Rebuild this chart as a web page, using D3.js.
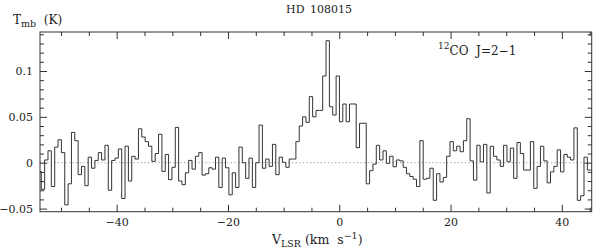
<!DOCTYPE html>
<html><head><meta charset="utf-8">
<script src="https://cdn.jsdelivr.net/npm/d3@7"></script>
<style>body{margin:0;background:#fff}svg text{font-family:"DejaVu Serif",serif;fill:#222}</style>
</head><body>
<svg id="c" width="600" height="250"></svg>
<script>
// ---- data ----
const title = "HD 108015";
const firstChannelVelocity = -54.15;   // km/s, left edge of first channel
const channelWidth = 0.602;            // km/s
const intensity = [
 -0.0095,-0.029,0.003,0.013,-0.026,0.017,0.025,0.011,-0.046,-0.023,
 0.033,0.024,-0.013,-0.004,-0.025,0.006,-0.006,0.0025,0.011,0.003,
 0.019,-0.030,0.0025,0.005,0.015,-0.039,0.018,-0.020,0.007,0.004,
 0.037,0.028,0.023,0.018,0.0015,0.010,0.031,-0.0095,0.009,-0.0185,
 -0.005,0.0385,-0.020,-0.024,-0.011,0.0025,-0.007,0.007,0.011,-0.0135,
 -0.012,-0.0055,-0.007,0.006,-0.027,0.005,-0.0055,-0.035,-0.011,-0.027,
 0.017,0,-0.017,0.005,-0.027,0,0.041,-0.006,0.004,-0.004,
 0.020,-0.013,0.006,0.0005,-0.005,0.004,0.004,0.023,0.040,0.050,
 0.044,0.072,0.050,
 0.057,0.057,0.0945,0.133,0.061,0.052,0.0945,0.0447,0.064,0.0447,
 0.064,0.064,0.0164,0.043,0.043,-0.023,-0.0087,-0.0015,0.019,0.003,
 0.013,-0.0007,0.007,-0.0044,0.003,0.002,-0.005,-0.012,-0.015,-0.018,
 -0.026,
 0.024,-0.018,-0.017,-0.006,-0.041,-0.012,-0.021,-0.016,0.007,0.023,
 0.013,0.018,0.012,0.024,0.048,0.002,-0.019,0.019,0.001,0.020,
 -0.033,0.018,0.007,0.003,-0.004,0.019,0.001,0.016,-0.017,0.022,
 0.010,-0.008,-0.008,0.023,-0.028,-0.004,0.018,0.002,-0.022,-0.010,
 -0.004,0.014,-0.010,0.009,0.006,0.003,0.038,-0.041,-0.036,0.006,
 -0.008,-0.008
];
const xMajorTicks = [-40,-20,0,20,40];
const xMinorTicks = [-50,-45,-35,-30,-25,-15,-10,-5,5,10,15,25,30,35,45];
const yMajorTicks = [-0.05,0,0.05,0.1];
const yMinorTicks = [-0.04,-0.03,-0.02,-0.01,0.01,0.02,0.03,0.04,0.06,0.07,0.08,0.09,0.11,0.12,0.13,0.14];
const xDomain = [-53.78, 45.36];
const yDomain = [-0.0534, 0.1425];

// ---- layout ----
const L = 40, R = 591.7, T = 32, B = 211.7;
const svg = d3.select("#c");
const x = d3.scaleLinear().domain(xDomain).range([L, R]);
const y = d3.scaleLinear().domain(yDomain).range([B, T]);

svg.append("defs").append("clipPath").attr("id","clip")
  .append("rect").attr("x",L).attr("y",T).attr("width",R-L).attr("height",B-T);

// zero line
svg.append("line").attr("x1",L).attr("x2",R).attr("y1",y(0)).attr("y2",y(0))
  .attr("stroke","#999").attr("stroke-width",1).attr("stroke-dasharray","1.2,2.4");

// spectrum
const pts = intensity.map((v,i)=>[firstChannelVelocity + i*channelWidth, v]);
pts.push([firstChannelVelocity + intensity.length*channelWidth, intensity[intensity.length-1]]);
svg.append("path").attr("clip-path","url(#clip)")
  .attr("d", d3.line().x(d=>x(d[0])).y(d=>y(d[1])).curve(d3.curveStepAfter)(pts))
  .attr("fill","none").attr("stroke","#333").attr("stroke-width",1);

// axes
const fmt = d3.format("");
function addAxis(gen, tx, ty){
  const g = svg.append("g").attr("transform",`translate(${tx},${ty})`).call(gen);
  g.select(".domain").remove();
  g.selectAll(".tick line").attr("stroke","#333");
  g.selectAll("text").attr("font-size",11).attr("font-family","DejaVu Serif").attr("fill","#222");
  return g;
}
addAxis(d3.axisBottom(x).tickValues(xMajorTicks).tickSize(-7).tickPadding(7).tickFormat(fmt),0,B);
addAxis(d3.axisBottom(x).tickValues(xMinorTicks).tickSize(-4).tickFormat(""),0,B);
addAxis(d3.axisTop(x).tickValues(xMajorTicks).tickSize(-7).tickFormat(""),0,T);
addAxis(d3.axisTop(x).tickValues(xMinorTicks).tickSize(-4).tickFormat(""),0,T);
addAxis(d3.axisLeft(y).tickValues(yMajorTicks).tickSize(-7).tickPadding(7).tickFormat(fmt),L,0);
addAxis(d3.axisLeft(y).tickValues(yMinorTicks).tickSize(-4).tickFormat(""),L,0);
addAxis(d3.axisRight(y).tickValues(yMajorTicks).tickSize(-7).tickFormat(""),R,0);
addAxis(d3.axisRight(y).tickValues(yMinorTicks).tickSize(-4).tickFormat(""),R,0);

svg.append("rect").attr("x",L).attr("y",T).attr("width",R-L).attr("height",B-T)
  .attr("fill","none").attr("stroke","#333").attr("stroke-width",1);

// titles
svg.append("text").attr("x",319).attr("y",13).attr("text-anchor","middle")
  .attr("font-size",11).attr("word-spacing",2).text(title);

const yl = svg.append("text").attr("x",13).attr("y",24).attr("font-size",12);
yl.append("tspan").text("T");
yl.append("tspan").attr("dy",3).attr("font-size",9.5).text("mb");
yl.append("tspan").attr("dy",-3).attr("xml:space","preserve").text("\u00a0\u00a0(K)");

const xl = svg.append("text").attr("x",272).attr("y",244).attr("font-size",12.5);
xl.append("tspan").text("V");
xl.append("tspan").attr("dy",3).attr("font-size",9.5).text("LSR");
xl.append("tspan").attr("dy",-3).text("\u00a0(km\u00a0\u00a0s");
xl.append("tspan").attr("dy",-5).attr("font-size",9.5).text("\u22121");
xl.append("tspan").attr("dy",5).text(")");

const ll = svg.append("text").attr("x",438).attr("y",55).attr("font-size",12);
ll.append("tspan").attr("dy",-6).attr("font-size",9).text("12");
ll.append("tspan").attr("dy",6).text("CO\u00a0\u00a0J=2\u22121");
</script>
</body></html>
